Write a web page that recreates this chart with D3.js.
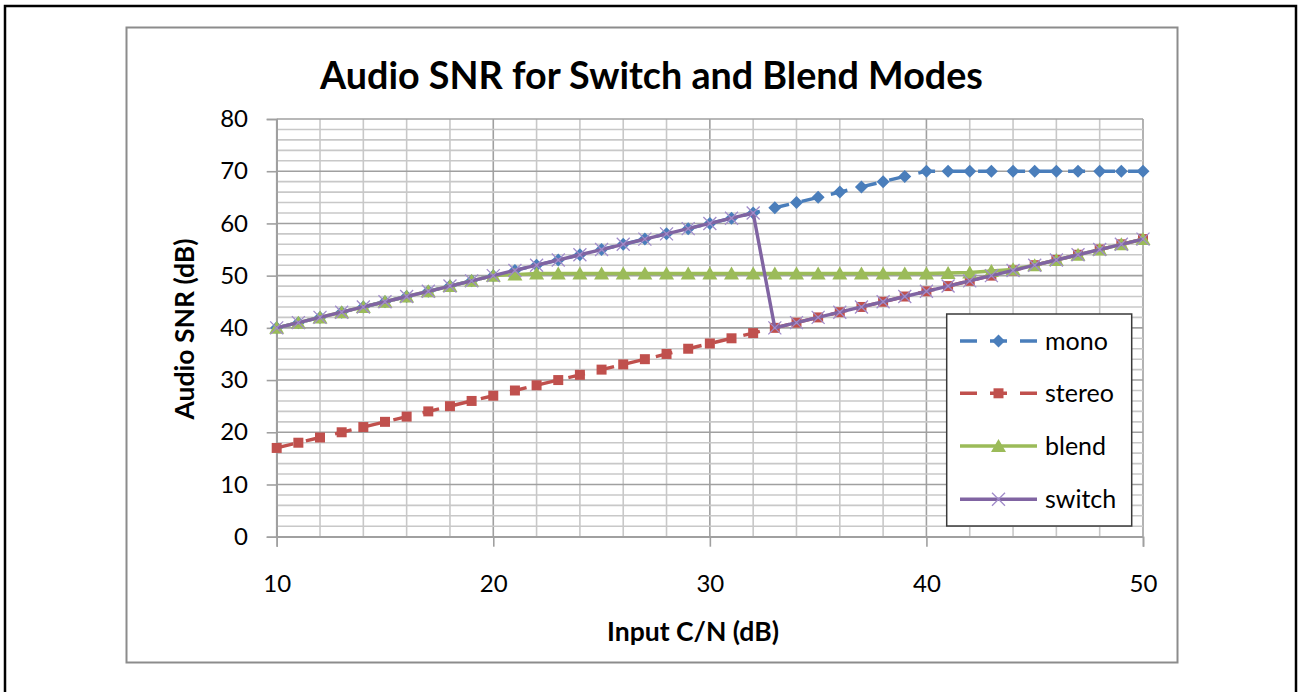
<!DOCTYPE html>
<html><head><meta charset="utf-8">
<script src="https://cdn.jsdelivr.net/npm/d3@7"></script>
<style>
body{margin:0;background:#fff;}
svg{display:block;font-family:Lato,"Open Sans",sans-serif;}
</style>
</head><body>
<svg id="c" width="1299" height="692"></svg>
<script>
// ---- data ----
const inputCN = [10,11,12,13,14,15,16,17,18,19,20,21,22,23,24,25,26,27,28,29,30,31,32,33,34,35,36,37,38,39,40,41,42,43,44,45,46,47,48,49,50];
const mono   = [40,41,42,43,44,45,46,47,48,49,50,51,52,53,54,55,56,57,58,59,60,61,62,63,64,65,66,67,68,69,70,70,70,70,70,70,70,70,70,70,70];
const stereo = [17,18,19,20,21,22,23,24,25,26,27,28,29,30,31,32,33,34,35,36,37,38,39,40,41,42,43,44,45,46,47,48,49,50,51,52,53,54,55,56,57];
const blend  = [40,41,42,43,44,45,46,47,48,49,50,50.2,50.4,50.4,50.4,50.4,50.4,50.4,50.4,50.4,50.4,50.4,50.4,50.4,50.4,50.4,50.4,50.4,50.4,50.4,50.4,50.5,50.6,50.9,51.2,52,53,54,55,56,57];
const switchMode = [40,41,42,43,44,45,46,47,48,49,50,51,52,53,54,55,56,57,58,59,60,61,62,40,41,42,43,44,45,46,47,48,49,50,51,52,53,54,55,56,57];
const seriesNames = ["mono","stereo","blend","switch"];
const yTicks = [0,10,20,30,40,50,60,70,80];
const xTicks = [10,20,30,40,50];
const titleText = "Audio SNR for Switch and Blend Modes";
const xLabel = "Input C/N (dB)";
const yLabel = "Audio SNR (dB)";

const series = [
  {name:"mono", values:mono, color:"#4A7EBB", dash:"17,13", marker:"diamond"},
  {name:"stereo", values:stereo, color:"#C0504D", dash:"17,13", marker:"square"},
  {name:"blend", values:blend, color:"#9BBB59", dash:null, marker:"triangle"},
  {name:"switch", values:switchMode, color:"#8064A2", dash:null, marker:"x"}
];

const svg = d3.select("#c");

// outer frame
svg.append("rect").attr("x",5).attr("y",6).attr("width",1291).attr("height",700)
  .attr("fill","#fff").attr("stroke","#000").attr("stroke-width",2.5);
// chart area frame
svg.append("rect").attr("x",126.5).attr("y",27.5).attr("width",1051).attr("height",635)
  .attr("fill","#fff").attr("stroke","#8c8c8c").attr("stroke-width",2);

const x = d3.scaleLinear().domain([10,50]).range([276.7,1143]);
const y = d3.scaleLinear().domain([0,80]).range([536.7,119]);

// gridlines
const g = svg.append("g");
const minorX = d3.range(10,51,2), minorY = d3.range(0,81,2);
g.selectAll(".vx").data(minorX).join("line")
  .attr("x1",d=>x(d)).attr("x2",d=>x(d)).attr("y1",y(0)).attr("y2",y(80))
  .attr("stroke",d=>d%10===0?"#a0a0a0":"#c8c8c8").attr("stroke-width",1.6);
g.selectAll(".hy").data(minorY).join("line")
  .attr("y1",d=>y(d)).attr("y2",d=>y(d)).attr("x1",x(10)).attr("x2",x(50))
  .attr("stroke",d=>d%10===0?"#a0a0a0":"#c8c8c8").attr("stroke-width",1.6);

// axes
const yAxis = svg.append("g").attr("transform",`translate(${x(10)},0)`)
  .call(d3.axisLeft(y).tickValues(yTicks).tickSize(10).tickPadding(18.7));
const xAxis = svg.append("g").attr("transform",`translate(0,${y(0)})`)
  .call(d3.axisBottom(x).tickValues(xTicks).tickSize(10).tickPadding(28));
[yAxis,xAxis].forEach(a=>{
  a.select(".domain").attr("stroke","#a0a0a0").attr("stroke-width",1.6);
  a.selectAll(".tick line").attr("stroke","#a0a0a0").attr("stroke-width",1.6);
  a.selectAll(".tick text").attr("font-family","Lato, 'Open Sans', sans-serif").attr("font-size",24).attr("fill","#000");
});

// marker shapes
function drawMarker(sel, type, color){
  if(type==="diamond") sel.append("path").attr("d","M0,-6.5L6.5,0L0,6.5L-6.5,0Z").attr("fill",color);
  else if(type==="square") sel.append("path").attr("d","M-5,-5H5V5H-5Z").attr("fill",color);
  else if(type==="triangle") sel.append("path").attr("d","M0,-7L7.5,6L-7.5,6Z").attr("fill",color);
  else if(type==="x") sel.append("path").attr("d","M-6.5,-6.5L6.5,6.5M6.5,-6.5L-6.5,6.5").attr("stroke","#A08BC9").attr("stroke-width",1.3).attr("fill","none");
}

const line = d3.line().x((d,i)=>x(inputCN[i])).y(d=>y(d));
series.forEach(s=>{
  const sg = svg.append("g");
  sg.append("path").attr("d",line(s.values)).attr("fill","none")
    .attr("stroke",s.color).attr("stroke-width",3.4)
    .attr("stroke-dasharray",s.dash).attr("stroke-linejoin","round");
  sg.selectAll("g.m").data(s.values).join("g").attr("class","m")
    .attr("transform",(d,i)=>`translate(${x(inputCN[i])},${y(d)})`)
    .each(function(){ drawMarker(d3.select(this), s.marker, s.color); });
});

// legend
const lg = svg.append("g");
lg.append("rect").attr("x",946.7).attr("y",314).attr("width",185).attr("height",212)
  .attr("fill","#fff").attr("stroke","#3a3a3a").attr("stroke-width",1.5);
const legY = [341,393.3,446,499.3];
series.forEach((s,i)=>{
  const row = lg.append("g").attr("transform",`translate(0,${legY[i]})`);
  row.append("line").attr("x1",960).attr("x2",1037).attr("y1",0).attr("y2",0)
    .attr("stroke",s.color).attr("stroke-width",3.4).attr("stroke-dasharray",s.dash);
  drawMarker(row.append("g").attr("transform","translate(998.5,0)"), s.marker, s.color);
  row.append("text").attr("x",1045).attr("y",0).attr("dy","0.35em")
    .attr("font-size",25).attr("fill","#000").text(seriesNames[i]);
});

function fit(sel, target){
  const len = sel.node().getComputedTextLength();
  const fs = parseFloat(sel.attr("font-size"));
  sel.attr("font-size", fs*target/len);
  return fs*target/len;
}

// title
const t = svg.append("text").attr("x",651.5).attr("y",89.3).attr("text-anchor","middle")
  .attr("font-weight","bold").attr("font-size",36).attr("fill","#000").text(titleText);
fit(t, 663);

// axis labels
const xl = svg.append("text").attr("x",693).attr("y",641).attr("text-anchor","middle")
  .attr("font-weight","bold").attr("font-size",26).attr("fill","#000").text(xLabel);
const fsl = fit(xl, 172);
svg.append("text").attr("transform","translate(194,329) rotate(-90)").attr("text-anchor","middle")
  .attr("font-weight","bold").attr("font-size",fsl).attr("fill","#000").text(yLabel);
</script>
</body></html>
